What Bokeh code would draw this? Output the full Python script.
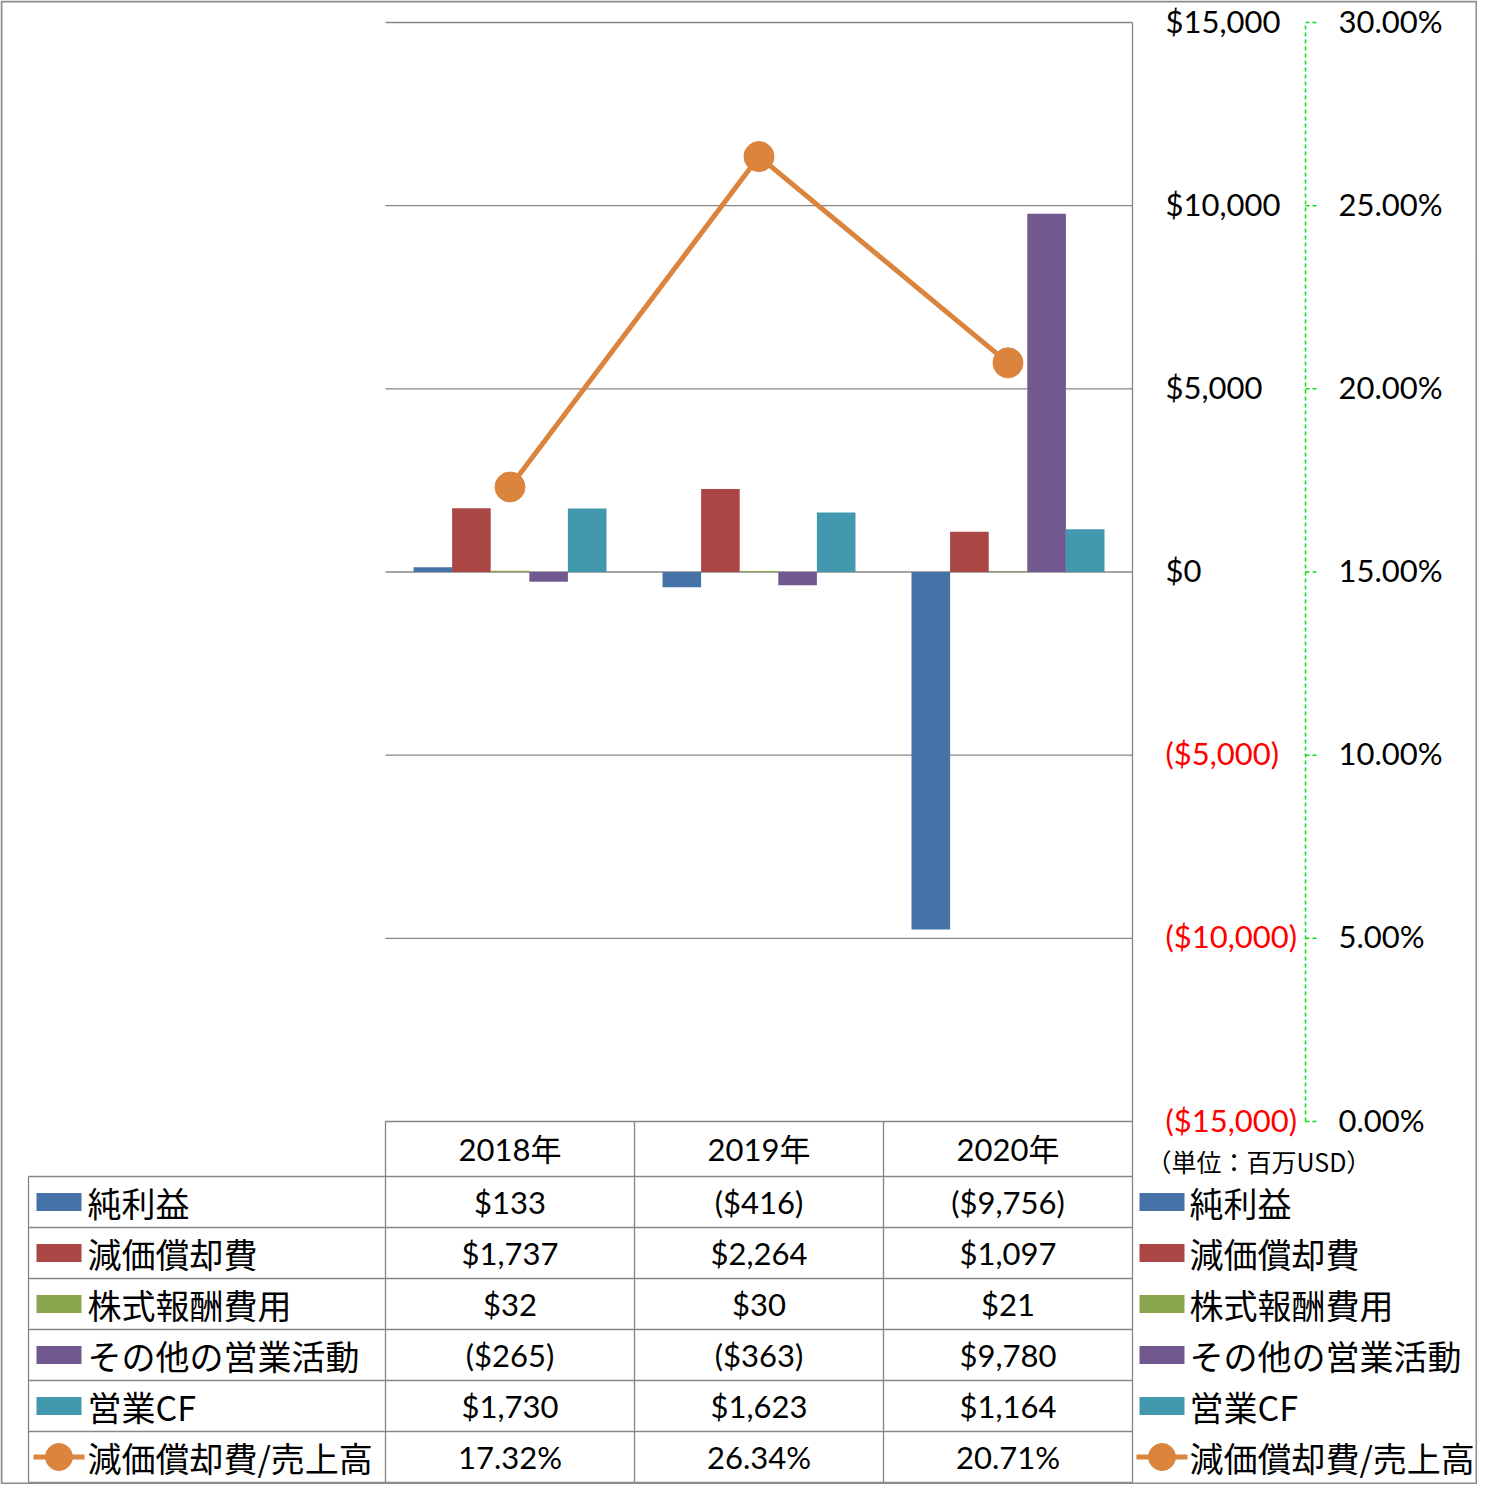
import numpy as np
from bokeh.plotting import figure
from bokeh.models import ColumnDataSource, Range1d
from bokeh.core.properties import value
from bokeh.transform import dodge
from bokeh.embed import file_html
from bokeh.resources import INLINE

# ---------------- data ----------------
years = ["2018年", "2019年", "2020年"]
net_income = [133, -416, -9756]
depreciation = [1737, 2264, 1097]
stock_comp = [32, 30, 21]
other_ops = [-265, -363, 9780]
operating_cf = [1730, 1623, 1164]
dep_ratio = [0.1732, 0.2634, 0.2071]

series_names = ["純利益", "減価償却費", "株式報酬費用", "その他の営業活動", "営業CF"]
line_name = "減価償却費/売上高"
usd_ticks = [-15000, -10000, -5000, 0, 5000, 10000, 15000]
pct_ticks = [0.0, 0.05, 0.10, 0.15, 0.20, 0.25, 0.30]
unit_label = "（単位：百万USD）"

# ---------------- style ----------------
colors = ["#4572A7", "#AA4643", "#89A54E", "#71588F", "#4198AF"]
orange = "#DB843D"
GRID = "#868686"
GREEN = "#11DD11"
NUM_FONT = "Lato"
CJK_FONT = "Noto Sans CJK JP"
MIX_FONT = "Lato, 'Noto Sans CJK JP'"
NUM_SIZE = "31px"
CJK_SIZE = "34px"

W, H = 1477, 1484
FL, FR, FT, FB = 385, 1132, 22, 1121          # plot area (pixels)

# ranges: the frame covers the whole canvas; data ranges are set so the
# plot area sits at FL..FR / FT..FB
n = len(years)
U = (FR - FL) / n
usd_lo, usd_hi = usd_ticks[0], usd_ticks[-1]
pct_lo, pct_hi = pct_ticks[0], pct_ticks[-1]
k = (usd_hi - usd_lo) / (FB - FT)
kp = (pct_hi - pct_lo) / (FB - FT)

p = figure(width=W, height=H,
           x_range=Range1d(-FL / U, n + (W - FR) / U),
           y_range=Range1d(usd_lo - (H - FB) * k, usd_hi + FT * k),
           x_axis_location=None, y_axis_location=None,
           output_backend="svg", toolbar_location=None, min_border=0)
p.outline_line_color = None
p.background_fill_color = "white"
p.border_fill_color = "white"
p.xgrid.visible = False
p.ygrid.visible = False
p.extra_x_ranges = {"px": Range1d(0, W)}
p.extra_y_ranges = {"px": Range1d(H, 0),
                    "pct": Range1d(pct_lo - (H - FB) * kp, pct_hi + FT * kp)}


def usd(v):
    s = f"${abs(v):,}"
    return f"({s})" if v < 0 else s


def txt(xs, ys, texts, font, size, align="left", color="black", xr="px", yr="px", yoff=0):
    cols = color if isinstance(color, list) else [color] * len(texts)
    s = ColumnDataSource(dict(x=xs, y=ys, t=texts, c=cols))
    p.text(x="x", y="y", text="t", text_color="c", source=s, x_range_name=xr, y_range_name=yr,
           text_font=value(font), text_font_size=value(size), text_align=value(align),
           text_baseline=value("middle"), y_offset=yoff)


def seg(x0, y0, x1, y1, color=GRID, width=1.3, dash="solid", xr="px", yr="px"):
    s = ColumnDataSource(dict(x0=x0, y0=y0, x1=x1, y1=y1))
    p.segment(x0="x0", y0="y0", x1="x1", y1="y1", source=s, line_color=color,
              line_width=width, line_dash=dash, x_range_name=xr, y_range_name=yr)


# gridlines of the dollar axis
seg([FL] * len(usd_ticks), usd_ticks, [FR] * len(usd_ticks), usd_ticks, yr="default")

# ---------------- bars & line ----------------
cat_x = [i + 0.5 for i in range(n)]
src = ColumnDataSource(dict(x=cat_x, year=years, s0=net_income, s1=depreciation, s2=stock_comp,
                            s3=other_ops, s4=operating_cf, ratio=dep_ratio))
bw = 0.155
offsets = [-2 * bw, -bw, 0, bw, 2 * bw]
for i, key in enumerate(["s0", "s1", "s2", "s3", "s4"]):
    p.vbar(x=dodge("x", offsets[i]), top=key, bottom=0, width=bw,
           fill_color=colors[i], line_color=None, source=src)

p.line(x="x", y="ratio", y_range_name="pct", line_color=orange, line_width=5, source=src)
p.scatter(x="x", y="ratio", y_range_name="pct", marker="circle", size=30,
          fill_color=orange, line_color=orange, source=src)

# ---------------- axes ----------------
txt([FR + 33] * len(usd_ticks), usd_ticks, [usd(t) for t in usd_ticks], NUM_FONT, NUM_SIZE,
    color=["#FF0000" if t < 0 else "black" for t in usd_ticks], yr="default", yoff=-2)

AX2 = 1305
seg([AX2], [pct_lo], [AX2], [pct_hi], color=GREEN, width=1.5, dash="4 3", yr="pct")
seg([AX2] * len(pct_ticks), pct_ticks, [AX2 + 11] * len(pct_ticks), pct_ticks,
    color=GREEN, width=1.5, dash="4 3", yr="pct")
txt([AX2 + 33] * len(pct_ticks), pct_ticks, [f"{t * 100:.2f}%" for t in pct_ticks],
    NUM_FONT, NUM_SIZE, yr="pct", yoff=-2)

# ---------------- data table ----------------
TL = 28
HB = 1176
ROW = 51
n_rows = 6
TB = HB + ROW * n_rows
col_edges = [FL + U * i for i in range(n + 1)]
col_mid = [FL + U * (i + 0.5) for i in range(n)]

seg([FR], [FT], [FR], [TB])
seg(col_edges[:-1], [FB] * n, col_edges[:-1], [TB] * n)
seg([TL], [HB], [TL], [TB])
seg([TL] * (n_rows + 1), [HB + ROW * r for r in range(n_rows + 1)],
    [FR] * (n_rows + 1), [HB + ROW * r for r in range(n_rows + 1)])

txt(col_mid, [(FB + HB) / 2] * n, years, MIX_FONT, "31px", align="center")

rows = [net_income, depreciation, stock_comp, other_ops, operating_cf]
row_y = [HB + ROW * r + ROW / 2 for r in range(n_rows)]
for r, vals in enumerate(rows):
    txt(col_mid, [row_y[r]] * n, [usd(v) for v in vals], NUM_FONT, NUM_SIZE, align="center")
txt(col_mid, [row_y[5]] * n, [f"{v * 100:.2f}%" for v in dep_ratio], NUM_FONT, NUM_SIZE,
    align="center")

# legends (left inside table, and right of table)
for sx0, tx in [(36, 87), (1139, 1189)]:
    p.quad(left=[sx0] * 5, right=[sx0 + 45] * 5,
           top=[y - 9 for y in row_y[:5]], bottom=[y + 9 for y in row_y[:5]],
           fill_color=colors, line_color=None, x_range_name="px", y_range_name="px")
    txt([tx] * 6, row_y, series_names + [line_name], CJK_FONT, CJK_SIZE)
for lx0 in [33, 1136]:
    seg([lx0], [row_y[5]], [lx0 + 51], [row_y[5]], color=orange, width=5)
    p.scatter(x=[lx0 + 25.5], y=[row_y[5]], size=27, marker="circle",
              fill_color=orange, line_color=orange, x_range_name="px", y_range_name="px")

txt([1146], [1160], [unit_label], CJK_FONT, "25px")

# outer border
p.quad(left=[1], right=[W - 1], top=[1], bottom=[H - 1], fill_alpha=0,
       line_color="#8C8C8C", line_width=2, x_range_name="px", y_range_name="px")

open("out.html", "w").write(file_html(p, INLINE))
